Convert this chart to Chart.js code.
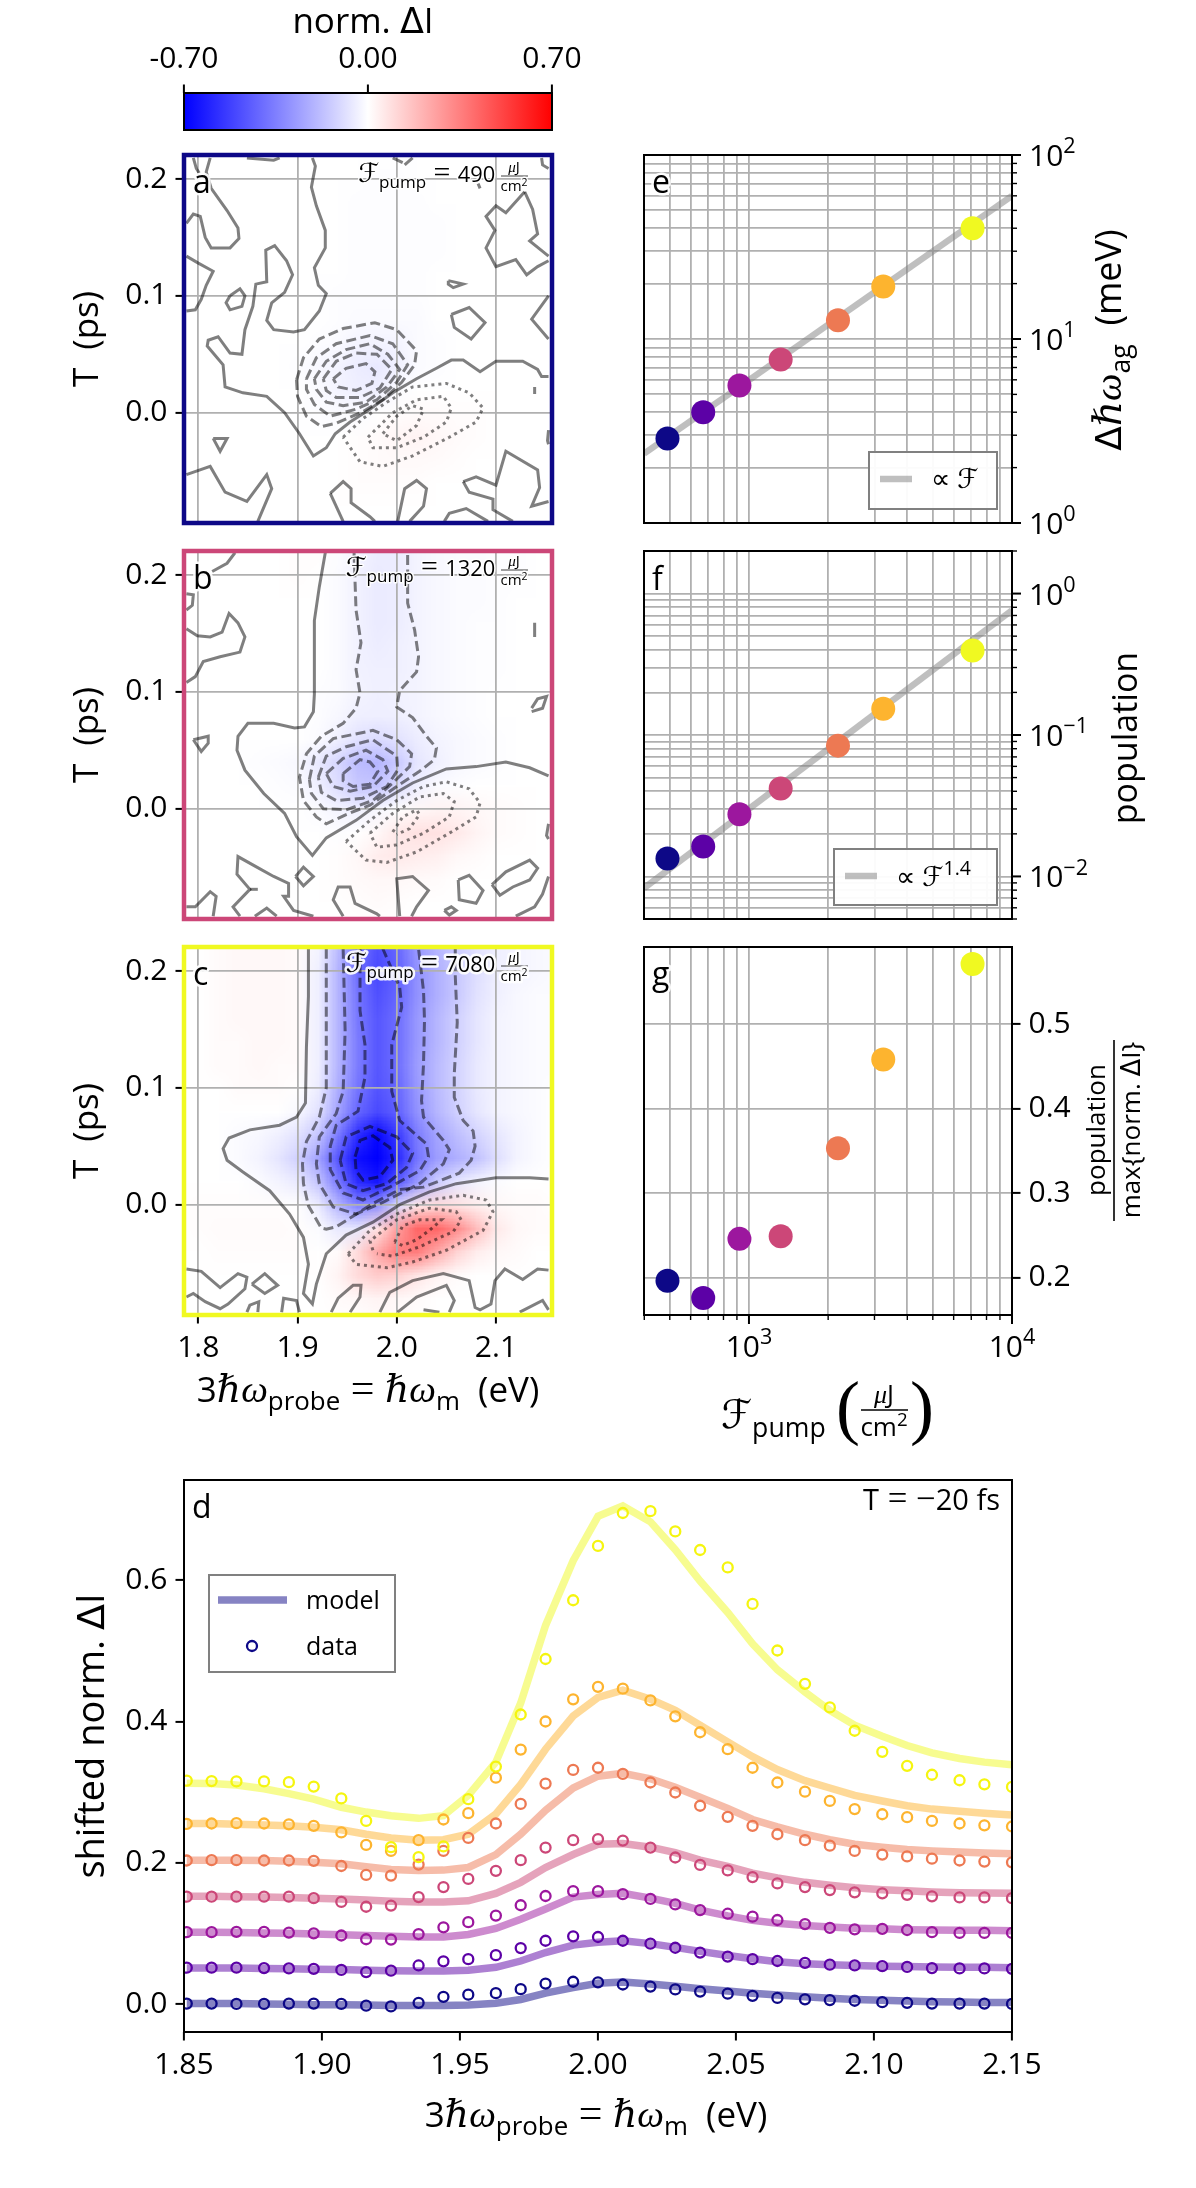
<!DOCTYPE html>
<html>
<head>
<meta charset="utf-8">
<title>norm. delta I panels</title>
<script src="https://cdn.jsdelivr.net/npm/chart.js@4"></script>
<style>
  html, body { margin: 0; background: #fff; }
  canvas { position: absolute; left: 0; top: 0; }
</style>
</head>
<body>
<script>
// fluence series, same order everywhere
const fluence = [490, 670, 920, 1320, 2180, 3240, 7080];
const seriesColors = ['#0d0887', '#5c01a6', '#9c179e', '#cc4778', '#ed7953', '#fdb42f', '#f0f921'];

const shiftAg = [2.88, 4.0, 5.59, 7.74, 12.65, 19.3, 40];
const population = [0.0134, 0.0163, 0.0275, 0.0418, 0.0841, 0.1534, 0.396];
const popRatio = [0.1965, 0.176, 0.246, 0.249, 0.353, 0.458, 0.571];

const fitF = [399, 10000];
const fitE = [2.38, 60];
const fitP = [0.00827, 0.762];

const fluenceTicks = [400, 500, 600, 700, 800, 900, 1000, 2000, 3000, 4000, 5000, 6000, 7000, 8000, 9000, 10000];
const shiftTicks = [1, 2, 3, 4, 5, 6, 7, 8, 9, 10, 20, 30, 40, 50, 60, 70, 80, 90, 100];
const popTicks = [0.005, 0.006, 0.007, 0.008, 0.009, 0.01, 0.02, 0.03, 0.04, 0.05, 0.06, 0.07, 0.08, 0.09,
  0.1, 0.2, 0.3, 0.4, 0.5, 0.6, 0.7, 0.8, 0.9, 1, 2];
const ratioTicks = [0.2, 0.3, 0.4, 0.5];
const probeTicks = [1.8, 1.9, 2.0, 2.1];
const delayTicks = [0.0, 0.1, 0.2];
const energyTicksD = [1.85, 1.90, 1.95, 2.00, 2.05, 2.10, 2.15];
const valueTicksD = [0.0, 0.2, 0.4, 0.6];
const colorbarTicks = [-0.7, 0, 0.7];

// panel d
const energy = [1.851, 1.860, 1.869, 1.879, 1.888, 1.897, 1.907, 1.916, 1.925, 1.935, 1.944, 1.953, 1.963, 1.972, 1.981, 1.991,
  2.000, 2.009, 2.019, 2.028, 2.037, 2.047, 2.056, 2.065, 2.075, 2.084, 2.093, 2.103, 2.112, 2.121, 2.131, 2.140, 2.150];

const data490 = [.001,.001,.0005,.0005,.001,.001,.0005,-.002,-.003,.002,.0105,.0136,.0157,.0214,.0293,.0319,.031,.028,.025,.021,.018,.015,.012,.009,.007,.006,.005,.003,.002,.001,.001,.001,.0005];
const data670 = [.0518,.0518,.0518,.0512,.0507,.0502,.0486,.0455,.0476,.0549,.0607,.0638,.0695,.0795,.0899,.0962,.0952,.0899,.0858,.08,.0732,.0675,.0638,.0612,.0586,.056,.055,.0539,.0528,.0512,.0507,.0507,.0502];
const data920 = [.102,.102,.1025,.1025,.1014,.1004,.0973,.092,.0915,.0993,.1088,.1161,.1255,.1401,.1532,.16,.16,.1558,.149,.1412,.1333,.1281,.1239,.1192,.1135,.1082,.1061,.1067,.1051,.102,.1009,.1009,.1009];
const data1320 = [.1522,.1522,.1522,.1522,.1522,.1501,.1448,.138,.1396,.1516,.1658,.1773,.1888,.2039,.2217,.2322,.2337,.2316,.2217,.2076,.1971,.1893,.1799,.171,.1658,.1616,.1584,.1569,.1548,.1527,.1511,.1511,.1501];
const data2180 = [.2034,.2039,.2039,.2034,.2034,.2029,.1956,.183,.182,.1976,.217,.2353,.2557,.2834,.3122,.3315,.3346,.3258,.3137,.2996,.2808,.2651,.2525,.2405,.2322,.2243,.217,.2118,.2092,.206,.2034,.2018,.2008];
const data3240 = [.2552,.2557,.2562,.2557,.2546,.2525,.2431,.2254,.217,.2322,.2614,.2703,.3205,.3603,.4,.4314,.4491,.4465,.4298,.4073,.3848,.3608,.3346,.3137,.3007,.2876,.2761,.2688,.2646,.2593,.2557,.2531,.2515];
const data7080 = [.3163,.3158,.3153,.3153,.3142,.308,.2912,.2593,.2222,.2081,.2233,.2902,.3362,.4099,.4884,.5715,.6484,.6949,.6975,.6688,.6426,.618,.5663,.5004,.4533,.4199,.3869,.3571,.3373,.3247,.3169,.3111,.3075];

const model490 = [.001,.001,.001,.0005,0,-.0005,-.0005,-.001,-.0016,-.0016,-.0016,-.001,.0016,.0068,.0157,.0235,.0298,.0314,.0288,.0256,.022,.0188,.0157,.0131,.0105,.0084,.0068,.0058,.0047,.0037,.0031,.0026,.0026];
const model670 = [.0512,.0512,.0512,.0507,.0502,.0497,.0492,.0481,.0476,.0471,.0471,.0481,.0523,.0612,.0732,.0837,.0878,.0899,.0858,.0805,.0748,.069,.0643,.0601,.0575,.0559,.0549,.0539,.0533,.0528,.0523,.0523,.0518];
const model920 = [.102,.102,.1014,.1009,.1004,.0993,.0983,.0973,.0962,.0952,.0952,.0988,.1072,.1203,.1349,.1516,.1553,.1569,.1501,.1427,.1333,.125,.1187,.1145,.1114,.1093,.1077,.1067,.1056,.1051,.1046,.1046,.1041];
const model1320 = [.1527,.1527,.1522,.1516,.1511,.1501,.149,.1475,.1459,.1448,.1448,.1464,.1569,.1725,.1935,.2118,.2264,.2275,.2222,.2144,.2039,.195,.1856,.1788,.1725,.1684,.1647,.1621,.1605,.159,.1579,.1574,.1569];
const model2180 = [.2039,.2039,.2039,.2034,.2024,.2008,.1987,.1945,.1908,.1893,.1898,.1935,.2118,.2405,.2745,.3059,.3226,.3268,.319,.3069,.2928,.2771,.2614,.251,.2405,.2327,.2264,.2222,.2191,.217,.2154,.2139,.2128];
const model3240 = [.2557,.2557,.2546,.2536,.2525,.2505,.2468,.2405,.2353,.2322,.2327,.2405,.2693,.3111,.3608,.4078,.434,.4444,.4314,.4157,.3948,.3712,.3503,.332,.3163,.3059,.2954,.2876,.2808,.2761,.2729,.2703,.2677];
const model7080 = [.3127,.3122,.3101,.3048,.298,.2902,.2787,.2719,.2667,.263,.2667,.2954,.3425,.4261,.5359,.6275,.6902,.7048,.6824,.6431,.5987,.5542,.5098,.4732,.4418,.4157,.3948,.3791,.366,.3556,.3477,.3425,.3388];

// heatmap cells, values in percent of norm. dI
const mapEnergy = [1.78,1.80,1.82,1.84,1.86,1.88,1.90,1.92,1.94,1.96,1.98,2.00,2.02,2.04,2.06,2.08,2.10,2.12,2.14,2.16];
const mapDelay = [.22,.20,.18,.16,.14,.12,.10,.08,.06,.04,.02,0,-.02,-.04,-.06,-.08,-.10];

const mapA = [
  [0,0,0,0,0,0,0,0,0,0,0,0,0,0,0,0,0,0,0,0],
  [0,0,0,0,0,0,0,0,0,0,-.5,-.5,0,0,0,0,0,0,0,0],
  [0,0,0,0,0,0,0,0,0,-.5,-.5,-.5,-.5,0,0,0,0,0,0,0],
  [0,0,0,0,0,0,0,0,0,-.5,-.5,-.5,-.5,-.5,0,0,0,0,0,0],
  [0,0,0,0,0,0,0,0,0,-.5,-.5,-.5,-.5,-.5,0,0,0,0,0,0],
  [0,0,0,0,0,0,0,0,0,-.5,-.5,-.5,-.5,0,0,0,0,0,0,0],
  [0,0,0,0,0,0,0,0,-.5,-.5,-.5,-.5,-.5,0,0,0,0,0,0,0],
  [0,0,0,0,0,0,0,0,-.5,-1,-1,-1,-1,0,0,0,0,0,0,0],
  [0,0,0,0,0,0,0,-.5,-1,-3,-3,-3,-1,-.5,0,0,0,0,0,0],
  [0,0,0,0,0,0,-.5,-2,-3,-5,-6,-4,-1,-.5,0,0,0,0,0,0],
  [0,0,0,0,0,0,0,-1,-3,-4,-4,-1,0,0,0,0,0,0,0,0],
  [0,0,0,0,0,0,0,-.5,-1,-1,0,.5,1,1,.5,.5,0,0,0,0],
  [0,0,0,0,0,0,0,0,0,.5,1,2.5,3,2,1,.5,0,0,0,0],
  [0,0,0,0,0,0,0,0,0,.5,1,1.5,1.5,1,.5,0,0,0,0,0],
  [0,0,0,0,0,0,0,0,0,.5,.5,.5,.5,0,0,0,0,0,0,0],
  [0,0,0,0,0,0,0,0,0,0,0,0,0,0,0,0,0,0,0,0],
  [0,0,0,0,0,0,0,0,0,0,0,0,0,0,0,0,0,0,0,0]
];
const mapB = [
  [0,0,0,0,0,0,.5,.5,-.5,-3,-5,-5,-3,-2,-1,-1,-.5,-.5,0,0],
  [0,0,0,0,0,0,.5,0,-1,-3.5,-5.5,-5,-3,-2,-1,-1,-.5,-.5,0,0],
  [0,0,0,0,0,0,0,0,-1,-3.5,-5.5,-5,-3,-2,-1,-1,-.5,0,0,0],
  [0,0,0,0,0,0,0,0,-1,-3.5,-5.5,-5,-3,-2,-1,-.5,-.5,0,0,0],
  [0,0,0,0,0,0,0,0,-1,-3.5,-5,-4,-3,-2,-1,-.5,-.5,0,0,0],
  [0,0,0,0,0,0,0,0,-1,-3.5,-4,-4,-3,-2,-1,-.5,-.5,0,0,0],
  [0,0,0,0,0,0,0,-.5,-1,-3,-4,-3.5,-3,-2,-1,-.5,0,0,0,0],
  [0,0,0,0,0,0,0,-.5,-2,-4,-4.5,-4,-3,-2,-1,-.5,0,0,0,0],
  [0,0,0,0,0,0,0,-1,-4,-8,-10,-8,-5,-3,-2,-1,-.5,0,0,0],
  [0,0,0,0,-.5,-1,-2,-6,-11,-18,-20,-15,-7,-4,-2,-1,-.5,0,0,0],
  [0,0,0,0,0,-.5,-1,-4,-9,-15,-16,-10,-4,-1,-.5,0,0,0,0,0],
  [0,0,0,0,0,0,0,-1,-3,-4,-2,0,2,3,3,2,1,.5,0,0],
  [0,0,0,0,0,0,0,0,-.5,0,2,6,8,8,6,3,1,.5,0,0],
  [0,0,0,0,0,0,0,0,.5,2,5,6,5,4,2,1,0,0,0,0],
  [0,0,0,0,0,0,0,0,.5,1.5,2,2,1.5,1,0,0,0,0,0,0],
  [0,0,0,0,0,0,0,0,0,.5,1,.5,0,0,0,0,0,0,0,0],
  [0,0,0,0,0,0,0,0,0,0,0,0,0,0,0,0,0,0,0,0]
];
const mapC = [
  [0,0,1,2,2,2,1,-3,-18,-38,-48,-42,-28,-20,-14,-8,-4,-3,-2,-1],
  [0,0,1,2,2,2,1,-4,-20,-40,-50,-44,-30,-22,-15,-9,-4,-3,-2,-1],
  [0,0,1,2,2,2,1,-4,-20,-38,-48,-42,-30,-22,-15,-8,-4,-2,-1,-1],
  [0,0,1,2,2,2,1,-4,-20,-37,-46,-40,-28,-20,-13,-7,-3,-2,-1,-1],
  [0,0,1,1,2,2,1,-4,-20,-36,-46,-40,-28,-20,-13,-7,-3,-2,-1,-1],
  [0,0,1,1,2,1,1,-4,-20,-36,-46,-40,-27,-19,-12,-6,-3,-2,-1,-1],
  [0,0,0,1,1,1,0,-5,-22,-38,-47,-42,-28,-19,-12,-6,-3,-2,-1,0],
  [0,0,0,0,0,0,-2,-8,-25,-42,-50,-44,-30,-20,-13,-7,-3,-2,-1,0],
  [0,0,0,-1,-2,-4,-8,-16,-36,-58,-68,-55,-36,-25,-18,-12,-7,-3,-1,0],
  [0,0,0,-1,-3,-7,-13,-25,-46,-66,-72,-60,-38,-27,-22,-17,-9,-3,-1,0],
  [0,0,0,0,-1,-3,-6,-16,-36,-58,-64,-46,-28,-14,-7,-3,-1,0,0,0],
  [0,.5,.5,.5,.5,.5,0,-5,-20,-34,-30,-10,6,10,8,5,2,1,1,0],
  [0,.5,1,1,1,1,.5,-1,-6,-6,8,26,42,42,32,18,6,2,1,1],
  [0,0,.5,.5,.5,.5,.5,0,1,10,24,36,36,24,12,5,2,1,0,0],
  [0,0,0,0,0,0,0,0,3,10,14,12,7,3,1,0,0,0,0,0],
  [0,0,0,0,0,0,0,0,1,2,3,2,1,0,0,0,0,0,0,0],
  [0,0,0,0,0,0,0,0,0,0,1,1,0,0,0,0,0,0,0,0]
];

// contour lines, flat energy,delay pairs
const solidA = [
  [1.795,.218,1.798,.209,1.801,.205],
  [1.812,.218,1.808,.206,1.813,.192,1.829,.173,1.84,.158,1.841,.149,1.832,.141,1.813,.141,1.807,.15,1.802,.168,1.795,.17,1.788,.162],
  [1.788,.134,1.8,.128,1.815,.121,1.808,.109,1.803,.097,1.797,.088,1.788,.087],
  [1.832,.1,1.842,.106,1.847,.1,1.844,.091,1.832,.088,1.828,.094,1.832,.1],
  [1.915,.218,1.918,.211,1.914,.193,1.919,.177,1.928,.156,1.928,.141,1.917,.124,1.921,.109,1.929,.102,1.922,.087,1.907,.071,1.896,.069,1.876,.071,1.869,.079,1.874,.094,1.887,.103,1.895,.118,1.889,.13,1.877,.143,1.868,.139,1.869,.112,1.858,.11,1.855,.091,1.847,.071,1.844,.05,1.832,.051,1.82,.065,1.81,.062,1.809,.057,1.825,.041,1.827,.022,1.845,.017,1.869,.014,1.887,0,1.902,-.018,1.916,-.037,1.929,-.03,1.938,-.018,1.953,-.008,1.973,.003,1.996,.017,2.02,.029,2.04,.038,2.055,.045,2.067,.045,2.084,.035,2.1,.044,2.127,.044,2.142,.037,2.146,.031,2.153,.031],
  [2.052,.113,2.067,.11,2.057,.107,2.052,.11,2.052,.113],
  [2.055,.084,2.073,.09,2.089,.077,2.075,.063,2.058,.073,2.055,.084],
  [2.129,.189,2.11,.171,2.1,.177,2.09,.168,2.099,.156,2.09,.141,2.1,.125,2.12,.131,2.131,.118,2.142,.125,2.153,.13],
  [2.129,.189,2.137,.174,2.142,.153,2.134,.147,2.153,.134],
  [2.153,.1,2.136,.08,2.153,.063],
  [2.139,.022,2.139,.016],
  [2.153,-.015,2.152,-.024,2.153,-.027],
  [1.815,-.022,1.829,-.022,1.822,-.033,1.815,-.022],
  [1.788,-.053,1.812,-.046,1.827,-.068,1.849,-.076,1.869,-.053,1.874,-.065,1.86,-.093],
  [1.933,-.069,1.946,-.059,1.954,-.065,1.954,-.077,1.973,-.089,1.978,-.093],
  [1.933,-.069,1.946,-.093],
  [2.001,-.093,2.008,-.065,2.02,-.058,2.03,-.065,2.027,-.08,2.013,-.093],
  [2.048,-.093,2.053,-.086,2.07,-.082,2.092,-.093],
  [2.067,-.059,2.08,-.055,2.1,-.062,2.11,-.033,2.142,-.049,2.144,-.064,2.136,-.08,2.153,-.076],
  [2.067,-.059,2.073,-.068,2.097,-.074,2.097,-.083,2.117,-.093],
  [1.849,.218,1.876,.216,1.882,.218],
  [1.996,.218,2.006,.214],
  [2.016,.218,2.008,.212],
  [2.082,.196,2.084,.192],
  [2.146,.218,2.147,.212,2.153,.209]
];
const dashA = [
  [1.899,.028,1.906,.047,1.922,.063,1.946,.072,1.978,.077,2.0,.071,2.02,.053,2.018,.041,2.005,.026,1.986,.011,1.966,.001,1.939,-.009,1.924,-.012,1.909,-.003,1.9,.014,1.899,.028],
  [1.909,.029,1.919,.047,1.939,.059,1.973,.066,1.996,.059,2.011,.041,2.0,.026,1.98,.011,1.959,.003,1.933,-.003,1.917,.007,1.909,.02,1.909,.029],
  [1.917,.029,1.929,.044,1.949,.054,1.973,.059,1.991,.05,2.003,.037,1.99,.022,1.969,.009,1.946,.006,1.929,.009,1.919,.02,1.917,.029],
  [1.926,.029,1.939,.044,1.959,.051,1.98,.05,1.995,.037,1.983,.021,1.963,.013,1.939,.013,1.929,.019,1.926,.029],
  [1.936,.029,1.949,.038,1.969,.042,1.978,.035,1.975,.025,1.959,.019,1.941,.022,1.936,.029]
];
const dotA = [
  [1.946,-.021,1.966,-.005,1.99,.009,2.016,.022,2.05,.025,2.073,.017,2.087,.004,2.08,-.008,2.053,-.021,2.016,-.037,1.986,-.046,1.963,-.042,1.946,-.021],
  [1.971,-.021,1.996,0,2.02,.011,2.047,.014,2.055,.004,2.05,-.008,2.027,-.021,2.0,-.03,1.976,-.03,1.971,-.021],
  [1.986,-.018,2.0,-.003,2.016,.006,2.027,.003,2.02,-.011,2.0,-.024,1.986,-.018]
];

const solidB = [
  [1.814,.203,1.829,.21,1.837,.219],
  [1.788,.184,1.795,.183,1.794,.174,1.788,.17],
  [1.788,.154,1.799,.148,1.812,.147,1.824,.151,1.831,.167,1.84,.159,1.847,.147,1.842,.134,1.822,.13,1.805,.126,1.797,.113,1.788,.108],
  [1.928,.219,1.922,.19,1.917,.161,1.917,.133,1.917,.098,1.916,.083,1.907,.07,1.897,.069,1.876,.073,1.85,.073,1.84,.062,1.839,.05,1.847,.033,1.866,.013,1.887,-.004,1.899,-.024,1.915,-.04,1.929,-.025,1.959,-.01,1.986,.007,2.016,.022,2.05,.034,2.08,.036,2.11,.04,2.134,.035,2.153,.028],
  [1.795,.059,1.81,.062,1.81,.056,1.803,.049,1.795,.059],
  [2.139,.159,2.139,.147],
  [2.136,.086,2.142,.094,2.151,.096,2.147,.086,2.136,.083],
  [2.153,-.013,2.151,-.023,2.153,-.026],
  [1.898,-.058,1.906,-.05,1.916,-.058,1.906,-.066,1.898,-.058],
  [1.788,-.084,1.797,-.084,1.812,-.071,1.818,-.075,1.815,-.092],
  [1.842,-.092,1.835,-.084,1.852,-.069,1.839,-.056,1.84,-.041,1.859,-.05,1.876,-.058,1.891,-.064,1.891,-.075,1.886,-.075,1.896,-.087,1.916,-.092],
  [1.852,-.069,1.86,-.069],
  [1.857,-.092,1.869,-.085,1.879,-.092],
  [1.946,-.092,1.936,-.078,1.941,-.067,1.953,-.067,1.958,-.081,1.98,-.09,1.983,-.092],
  [2.003,-.092,2.0,-.06,2.016,-.058,2.032,-.07,2.02,-.084,2.015,-.092],
  [2.062,-.061,2.073,-.057,2.087,-.07,2.08,-.081,2.063,-.078,2.062,-.061],
  [2.048,-.087,2.055,-.084,2.06,-.087,2.053,-.091,2.048,-.087],
  [2.096,-.065,2.11,-.054,2.134,-.044,2.142,-.051,2.134,-.061,2.117,-.067,2.104,-.074,2.096,-.065],
  [2.12,-.092,2.139,-.084,2.147,-.073,2.153,-.058]
];
const dashB = [
  [1.957,.219,1.958,.194,1.959,.17,1.964,.142,1.959,.119,1.963,.099,1.959,.086,1.946,.073,1.924,.062,1.909,.047,1.902,.027,1.906,.007,1.919,-.007,1.929,-.013,1.949,-.005,1.973,.003,2.0,.019,2.023,.032,2.038,.042,2.04,.052,2.03,.062,2.016,.078,2.0,.087,2.003,.101,2.02,.117,2.022,.13,2.018,.153,2.011,.176,2.011,.219],
  [1.912,.025,1.917,.045,1.936,.06,1.976,.067,2.0,.059,2.015,.047,2.013,.036,1.996,.022,1.976,.007,1.949,-.001,1.926,0,1.914,.013,1.912,.025],
  [1.921,.027,1.929,.045,1.949,.053,1.976,.059,2.0,.045,2.001,.033,1.99,.019,1.966,.009,1.939,.007,1.924,.014,1.921,.027],
  [1.929,.03,1.946,.043,1.969,.05,1.986,.042,1.991,.032,1.976,.019,1.953,.015,1.936,.019,1.929,.03],
  [1.946,.03,1.963,.042,1.973,.04,1.981,.032,1.973,.021,1.956,.019,1.946,.024,1.946,.03]
];
const dotB = [
  [1.949,-.028,1.973,-.01,2.0,.007,2.027,.019,2.05,.023,2.073,.017,2.084,.005,2.08,-.007,2.053,-.021,2.02,-.037,1.99,-.046,1.969,-.044,1.949,-.028],
  [1.973,-.021,1.996,-.004,2.023,.01,2.047,.013,2.058,.006,2.053,-.007,2.027,-.021,2.0,-.031,1.98,-.033,1.973,-.021],
  [1.996,-.02,2.006,-.007,2.02,-.001,2.023,-.005,2.013,-.017,2.0,-.022]
];

const solidC = [
  [1.911,.219,1.911,.178,1.909,.135,1.908,.087,1.899,.075,1.882,.068,1.852,.064,1.831,.057,1.825,.048,1.829,.038,1.845,.028,1.872,.012,1.892,-.008,1.906,-.028,1.911,-.051,1.906,-.076,1.915,-.085,1.919,-.068,1.929,-.042,1.949,-.026,1.976,-.015,2.003,0,2.033,.011,2.06,.018,2.1,.023,2.134,.023,2.153,.022],
  [1.788,-.055,1.803,-.057,1.822,-.071,1.84,-.059,1.849,-.062,1.847,-.072,1.83,-.085,1.822,-.089,1.807,-.083,1.795,-.076,1.788,-.079],
  [1.854,-.068,1.867,-.059,1.88,-.069,1.867,-.076,1.854,-.068],
  [1.849,-.092,1.852,-.086,1.861,-.083,1.86,-.092],
  [1.884,-.092,1.886,-.08,1.899,-.082,1.902,-.092],
  [1.934,-.092,1.941,-.08,1.956,-.069,1.964,-.069,1.963,-.079,1.953,-.092],
  [1.983,-.092,1.993,-.075,2.016,-.065,2.047,-.059,2.073,-.065,2.079,-.088,2.084,-.09,2.095,-.085,2.099,-.065,2.109,-.055,2.127,-.064,2.142,-.055,2.153,-.056],
  [2.001,-.092,2.02,-.079,2.05,-.069,2.058,-.082,2.053,-.092],
  [2.027,-.09,2.043,-.092],
  [2.124,-.092,2.147,-.082,2.153,-.09]
];
const dashC = [
  [1.929,.219,1.929,.178,1.929,.101,1.929,.1,1.922,.075,1.909,.054,1.905,.035,1.906,.018,1.911,-.001,1.924,-.02,1.929,-.021,1.939,-.019,1.976,.001,2.003,.013,2.027,.015,2.063,.027,2.075,.038,2.079,.05,2.077,.063,2.067,.072,2.058,.092,2.058,.112,2.061,.156,2.059,.196,2.059,.219],
  [1.946,.219,1.948,.149,1.946,.097,1.939,.078,1.922,.058,1.919,.035,1.922,.018,1.936,-.002,1.959,-.008,1.986,.002,2.023,.018,2.047,.035,2.053,.047,2.047,.055,2.027,.075,2.025,.089,2.027,.12,2.028,.158,2.027,.183,2.022,.219],
  [1.963,.219,1.963,.19,1.963,.166,1.968,.137,1.968,.109,1.961,.08,1.939,.068,1.933,.05,1.933,.03,1.946,.01,1.966,.004,1.993,.015,2.023,.029,2.032,.041,2.03,.052,2.003,.072,1.995,.097,1.995,.137,2.005,.169,2.003,.186,1.986,.219],
  [1.943,.038,1.949,.058,1.973,.067,2.0,.058,2.016,.044,2.01,.032,1.99,.018,1.966,.012,1.949,.018,1.943,.038],
  [1.958,.041,1.963,.055,1.976,.059,1.993,.049,1.996,.038,1.983,.024,1.966,.021,1.959,.029,1.958,.041]
];
const dotC = [
  [1.951,-.042,1.973,-.022,2.0,-.008,2.033,.004,2.067,.008,2.09,.004,2.097,-.006,2.087,-.022,2.05,-.039,2.016,-.049,1.99,-.054,1.959,-.051,1.951,-.042],
  [1.976,-.039,1.973,-.031,2.0,-.013,2.033,-.003,2.06,-.006,2.065,-.013,2.057,-.023,2.023,-.036,1.996,-.044,1.98,-.042],
  [1.998,-.032,2.006,-.018,2.023,-.013,2.045,-.013,2.033,-.022,2.02,-.03,2.006,-.035,1.998,-.032]
];

const colorbarStops = ['#0000ff', '#ffffff', '#ff0000'];

const SANS = '"Open Sans", Lato, sans-serif';
const BLACK = '#000';
const GRID = '#b0b0b0';
const CONTOUR = 'rgba(0,0,0,0.5)';
const PAGE_W = 1196, PAGE_H = 2188;
const AXIS_BOX = 70; // room kept for tick labels, chart.js clips them to the scale box

function pairs(flat) {
  const out = [];
  for (let i = 0; i < flat.length; i += 2) out.push({ x: flat[i], y: flat[i + 1] });
  return out;
}
function zipXY(xs, ys) {
  return xs.map((x, i) => ({ x: x, y: ys[i] }));
}

function runFont(kind, size) {
  if (kind === 'i') return 'italic ' + size + 'px "Liberation Serif", "DejaVu Serif", serif';
  if (kind === 'e') return size + 'px "Liberation Serif", serif';
  if (kind === 'd') return size + 'px "DejaVu Sans", sans-serif';
  return size + 'px ' + SANS;
}

// runs: [text, kind, size factor, baseline shift factor]
function mathText(ctx, x, y, size, runs, opt) {
  opt = opt || {};
  ctx.save();
  ctx.translate(x, y);
  if (opt.rot) ctx.rotate(opt.rot);
  let w = 0;
  const laid = runs.map(r => {
    const s = size * (r[2] || 1);
    ctx.font = runFont(r[1] || 's', s);
    const m = ctx.measureText(r[0]).width;
    const item = { t: r[0], font: ctx.font, x: w, dy: size * (r[3] || 0) };
    w += m;
    return item;
  });
  const off = opt.align === 'center' ? -w / 2 : opt.align === 'right' ? -w : 0;
  ctx.textAlign = 'left';
  ctx.textBaseline = 'alphabetic';
  if (opt.halo) {
    ctx.strokeStyle = 'rgba(255,255,255,0.9)';
    ctx.lineWidth = opt.halo;
    ctx.lineJoin = 'round';
    laid.forEach(l => { ctx.font = l.font; ctx.strokeText(l.t, off + l.x, l.dy); });
  }
  ctx.fillStyle = opt.color || BLACK;
  laid.forEach(l => { ctx.font = l.font; ctx.fillText(l.t, off + l.x, l.dy); });
  ctx.restore();
}

function bwr(pct) {
  const t = Math.max(-1, Math.min(1, pct / 100 / 0.7));
  if (t < 0) {
    const c = Math.round(255 * (1 + t));
    return [c, c, 255];
  }
  const c = Math.round(255 * (1 - t));
  return [255, c, c];
}

function heatmapPlugin(matrix) {
  return {
    id: 'heatmap',
    beforeDraw(chart) {
      const rows = matrix.length, cols = matrix[0].length;
      const off = document.createElement('canvas');
      off.width = cols; off.height = rows;
      const oc = off.getContext('2d');
      const img = oc.createImageData(cols, rows);
      matrix.forEach((row, j) => row.forEach((v, i) => {
        const c = bwr(v), k = (j * cols + i) * 4;
        img.data[k] = c[0]; img.data[k + 1] = c[1]; img.data[k + 2] = c[2]; img.data[k + 3] = 255;
      }));
      oc.putImageData(img, 0, 0);
      const a = chart.chartArea, sx = chart.scales.x, sy = chart.scales.y;
      const x0 = sx.getPixelForValue(mapEnergy[0] - 0.01), x1 = sx.getPixelForValue(mapEnergy[cols - 1] + 0.01);
      const y0 = sy.getPixelForValue(mapDelay[0] + 0.01), y1 = sy.getPixelForValue(mapDelay[rows - 1] - 0.01);
      const ctx = chart.ctx;
      ctx.save();
      ctx.beginPath();
      ctx.rect(a.left, a.top, a.right - a.left, a.bottom - a.top);
      ctx.clip();
      ctx.imageSmoothingEnabled = true;
      ctx.drawImage(off, x0, y0, x1 - x0, y1 - y0);
      ctx.restore();
    }
  };
}

function frame(chart, color, width) {
  const a = chart.chartArea, ctx = chart.ctx;
  ctx.save();
  ctx.strokeStyle = color;
  ctx.lineWidth = width;
  ctx.strokeRect(a.left, a.top, a.right - a.left, a.bottom - a.top);
  ctx.restore();
}

function legendBox(ctx, x0, y0, x1, y1) {
  ctx.save();
  ctx.fillStyle = 'rgba(255,255,255,0.95)';
  ctx.strokeStyle = '#808080';
  ctx.lineWidth = 2;
  ctx.fillRect(x0, y0, x1 - x0, y1 - y0);
  ctx.strokeRect(x0, y0, x1 - x0, y1 - y0);
  ctx.restore();
}
function legendLine(ctx, x0, x1, y, color, width) {
  ctx.save();
  ctx.strokeStyle = color;
  ctx.lineWidth = width;
  ctx.beginPath(); ctx.moveTo(x0, y); ctx.lineTo(x1, y); ctx.stroke();
  ctx.restore();
}

// log axes: ticks and 10^n labels by hand, chart.js has no superscripts
function sideTicks(chart, axisId, values, labels, size) {
  const ctx = chart.ctx, scale = chart.scales[axisId], a = chart.chartArea;
  ctx.save();
  ctx.strokeStyle = BLACK;
  values.forEach(v => {
    const e = Math.log10(v), major = Math.abs(e - Math.round(e)) < 1e-6;
    const p = scale.getPixelForValue(v);
    ctx.lineWidth = major ? 2 : 1.4;
    ctx.beginPath();
    if (axisId === 'y') { ctx.moveTo(a.right, p); ctx.lineTo(a.right + (major ? 9 : 5), p); }
    else { ctx.moveTo(p, a.bottom); ctx.lineTo(p, a.bottom + (major ? 9 : 5)); }
    ctx.stroke();
    if (major && labels) {
      const exp = String(Math.round(e)).replace('-', '\u2212');
      const runs = [['10', 's'], [exp, 's', 0.72, -0.42]];
      if (axisId === 'y') mathText(ctx, a.right + 17, p + 11, size, runs);
      else mathText(ctx, p, a.bottom + 42, size, runs, { align: 'center' });
    }
  });
  ctx.restore();
}

// padding puts the plot area where it belongs on the page, the axis boxes take AXIS_BOX out of it
function baseOptions(area, scales) {
  const pad = { left: area.l, top: area.t, right: PAGE_W - area.r, bottom: PAGE_H - area.b };
  Object.values(scales).forEach(s => { if (s.display !== false) pad[s.position] -= AXIS_BOX; });
  return {
    responsive: false,
    animation: false,
    devicePixelRatio: 1,
    layout: { padding: pad },
    plugins: { legend: { display: false }, tooltip: { enabled: false } },
    scales: scales
  };
}

function linearAxis(horizontal, min, max, ticksList, showLabels, fmt, position, gridColor) {
  return {
    type: 'linear', min: min, max: max, position: position,
    border: { display: false },
    grid: { color: gridColor || GRID, lineWidth: 1.8, drawTicks: showLabels, tickLength: 8.5, tickColor: BLACK, tickWidth: 2 },
    ticks: {
      display: showLabels, autoSkip: false, maxRotation: 0, minRotation: 0,
      padding: horizontal ? 7 : 8, color: BLACK,
      font: { family: SANS, size: 30 },
      callback: v => fmt(v)
    },
    afterBuildTicks: axis => { axis.ticks = ticksList.map(v => ({ value: v })); },
    afterFit: axis => { if (horizontal) axis.height = AXIS_BOX; else axis.width = AXIS_BOX; }
  };
}
function logAxis(horizontal, min, max, ticksList, position) {
  return {
    type: 'logarithmic', min: min, max: max, position: position,
    border: { display: false },
    grid: { color: GRID, lineWidth: 1.8, drawTicks: false },
    ticks: { display: false, autoSkip: false },
    afterBuildTicks: axis => { axis.ticks = ticksList.map(v => ({ value: v })); },
    afterFit: axis => { if (horizontal) axis.height = AXIS_BOX; else axis.width = AXIS_BOX; }
  };
}

function addCanvas() {
  const c = document.createElement('canvas');
  c.width = PAGE_W; c.height = PAGE_H;
  c.style.width = PAGE_W + 'px'; c.style.height = PAGE_H + 'px';
  document.body.appendChild(c);
  return c;
}

function contourSets(solid, dash, dot) {
  const mk = (flat, d) => ({
    data: pairs(flat), showLine: true, pointRadius: 0, fill: false, tension: 0,
    borderColor: CONTOUR, borderWidth: 3, borderDash: d
  });
  return solid.map(f => mk(f, []))
    .concat(dash.map(f => mk(f, [10, 4.5])))
    .concat(dot.map(f => mk(f, [3, 4])));
}

const tick1 = v => v.toFixed(1);
const X_MIN = 1.7856, X_MAX = 2.1565, Y_MIN = -0.0944, Y_MAX = 0.2205;

function mapPanel(o) {
  const showX = !!o.xlabels;
  new Chart(addCanvas(), {
    type: 'scatter',
    data: { datasets: contourSets(o.solid, o.dash, o.dot) },
    options: baseOptions(o.area, {
      x: linearAxis(true, X_MIN, X_MAX, probeTicks, showX, tick1, 'bottom'),
      y: linearAxis(false, Y_MIN, Y_MAX, delayTicks, true, tick1, 'left')
    }),
    plugins: [heatmapPlugin(o.matrix), {
      id: 'panelText',
      afterDraw(chart) {
        const ctx = chart.ctx, a = chart.chartArea;
        const cy = (a.top + a.bottom) / 2;
        const haloN = o.halo;
        const fx = a.left + 317;
        const fy = a.top + o.noteDy;
        mathText(ctx, fx, fy, 23,
          [['\u2131', 'd', 1.15], ['pump', 's', 0.74, 0.24], [' = ', 'e', 1.3], [String(o.fluence) + ' ', 's', 0.95]],
          { align: 'right', halo: haloN });
        mathText(ctx, fx + 13, fy - 10, 15, [['\u03bc', 'i'], ['J', 's']], { align: 'center', halo: haloN });
        ctx.save();
        ctx.strokeStyle = 'rgba(0,0,0,0.75)';
        ctx.lineWidth = 1;
        ctx.beginPath(); ctx.moveTo(fx, fy - 6); ctx.lineTo(fx + 27, fy - 6); ctx.stroke();
        ctx.restore();
        mathText(ctx, fx + 13, fy + 9, 15, [['cm', 's'], ['2', 's', 0.7, -0.35]], { align: 'center', halo: haloN });
        mathText(ctx, a.left + 9, a.top + 38, 32, [[o.name, 's']], { halo: 5 });
        mathText(ctx, 98, cy, 35, [['T  (ps)', 's']], { align: 'center', rot: -Math.PI / 2 });
        if (showX) {
          mathText(ctx, (a.left + a.right) / 2, a.bottom + 87, 35,
            [['3', 's'], ['\u210f\u03c9', 'i', 1.08], ['probe', 's', 0.74, 0.24], [' = ', 'e', 1.2], ['\u210f\u03c9', 'i', 1.08], ['m', 's', 0.74, 0.24], ['  (eV)', 's']],
            { align: 'center' });
        }
        frame(chart, o.color, 4.5);
      }
    }]
  });
}

function fluencePanel(o) {
  const linear = !!o.linearY;
  new Chart(addCanvas(), {
    type: 'scatter',
    data: {
      datasets: [{
        data: zipXY(fluence, o.values), backgroundColor: seriesColors, borderWidth: 0, pointRadius: 12, pointHoverRadius: 12
      }].concat(o.fit ? [{
        data: zipXY(fitF, o.fit), showLine: true, pointRadius: 0, borderColor: 'rgba(128,128,128,0.5)', borderWidth: 6.5
      }] : [])
    },
    options: baseOptions(o.area, {
      x: logAxis(true, 399, 10000, fluenceTicks, 'bottom'),
      y: linear ? linearAxis(false, o.ymin, o.ymax, o.yticks, true, tick1, 'right')
                : logAxis(false, o.ymin, o.ymax, o.yticks, 'right')
    }),
    plugins: [{
      id: 'panelText',
      afterDraw(chart) {
        const ctx = chart.ctx;
        frame(chart, BLACK, 2);
        if (!linear) sideTicks(chart, 'y', o.yticks, true, 30);
        if (o.xlabels) sideTicks(chart, 'x', fluenceTicks, true, 30);
        o.text(ctx, chart);
      }
    }]
  });
}

// colour bar
new Chart(addCanvas(), {
  type: 'scatter',
  data: { datasets: [] },
  options: baseOptions({ l: 184, t: 93, r: 552, b: 130 }, {
    x: linearAxis(true, -0.7, 0.7, colorbarTicks, true, v => v.toFixed(2), 'top', 'transparent'),
    y: { display: false, min: 0, max: 1 }
  }),
  plugins: [{
    id: 'colorbar',
    beforeDraw(chart) {
      const a = chart.chartArea, ctx = chart.ctx, sx = chart.scales.x;
      const g = ctx.createLinearGradient(sx.getPixelForValue(-0.7), 0, sx.getPixelForValue(0.7), 0);
      colorbarStops.forEach((c, i) => g.addColorStop(i / (colorbarStops.length - 1), c));
      ctx.save();
      ctx.fillStyle = g;
      ctx.fillRect(a.left, a.top, a.right - a.left, a.bottom - a.top);
      ctx.restore();
    },
    afterDraw(chart) {
      frame(chart, BLACK, 2);
      mathText(chart.ctx, 363, 33, 35, [['norm. ', 's'], ['\u0394', 'd'], ['I', 's']], { align: 'center' });
    }
  }]
});

mapPanel({ area: { l: 184, t: 155, r: 552, b: 523 }, name: 'a', color: seriesColors[0], matrix: mapA,
  solid: solidA, dash: dashA, dot: dotA, fluence: 490, noteDy: 27, halo: 3 });
mapPanel({ area: { l: 184, t: 551, r: 552, b: 919 }, name: 'b', color: seriesColors[3], matrix: mapB,
  solid: solidB, dash: dashB, dot: dotB, fluence: 1320, noteDy: 25, halo: 3 });
mapPanel({ area: { l: 184, t: 947, r: 552, b: 1315 }, name: 'c', color: seriesColors[6], matrix: mapC,
  solid: solidC, dash: dashC, dot: dotC, fluence: 7080, noteDy: 25, halo: 5, xlabels: true });

fluencePanel({
  area: { l: 644, t: 155, r: 1012, b: 523 }, values: shiftAg, fit: fitE, ymin: 1, ymax: 100, yticks: shiftTicks,
  text(ctx) {
    mathText(ctx, 652, 193, 32, [['e', 's']], { halo: 5 });
    legendBox(ctx, 869, 452, 997, 509);
    legendLine(ctx, 880, 912, 479, 'rgba(128,128,128,0.5)', 6.5);
    mathText(ctx, 931, 488, 27, [['\u221d', 'd'], [' ', 's'], ['\u2131', 'd']]);
    mathText(ctx, 1121, 340, 36,
      [['\u0394', 'd'], ['\u210f\u03c9', 'i', 1.08], ['ag', 's', 0.74, 0.24], ['  (meV)', 's']],
      { align: 'center', rot: -Math.PI / 2 });
  }
});
fluencePanel({
  area: { l: 644, t: 551, r: 1012, b: 919 }, values: population, fit: fitP, ymin: 0.005, ymax: 2, yticks: popTicks,
  text(ctx) {
    mathText(ctx, 652, 590, 32, [['f', 's']], { halo: 5 });
    legendBox(ctx, 834, 849, 997, 905);
    legendLine(ctx, 845, 877, 876, 'rgba(128,128,128,0.5)', 6.5);
    mathText(ctx, 896, 886, 27, [['\u221d', 'd'], [' ', 's'], ['\u2131', 'd'], ['1.4', 's', 0.72, -0.42]]);
    mathText(ctx, 1137, 738, 34, [['population', 's']], { align: 'center', rot: -Math.PI / 2 });
  }
});
fluencePanel({
  area: { l: 644, t: 947, r: 1012, b: 1315 }, values: popRatio, ymin: 0.156, ymax: 0.591, yticks: ratioTicks,
  linearY: true, xlabels: true,
  text(ctx) {
    mathText(ctx, 652, 985, 32, [['g', 's']], { halo: 5 });
    // rotated fraction on the right
    mathText(ctx, 1105, 1130, 26, [['population', 's']], { align: 'center', rot: -Math.PI / 2 });
    ctx.save();
    ctx.strokeStyle = BLACK; ctx.lineWidth = 1.6;
    ctx.beginPath(); ctx.moveTo(1114, 1040); ctx.lineTo(1114, 1221); ctx.stroke();
    ctx.restore();
    mathText(ctx, 1140, 1130, 26, [['max', 's'], ['{', 's'], ['norm. ', 's'], ['\u0394', 'd'], ['I', 's'], ['}', 's']],
      { align: 'center', rot: -Math.PI / 2 });
    // x label with fraction
    mathText(ctx, 721, 1428, 36, [['\u2131', 'd', 1.1], ['pump', 's', 0.74, 0.24]]);
    mathText(ctx, 836, 1431, 72, [['(', 'e']]);
    mathText(ctx, 884, 1403, 26, [['\u03bc', 'i'], ['J', 's']], { align: 'center' });
    ctx.save();
    ctx.strokeStyle = BLACK; ctx.lineWidth = 1.6;
    ctx.beginPath(); ctx.moveTo(861, 1410); ctx.lineTo(908, 1410); ctx.stroke();
    ctx.restore();
    mathText(ctx, 884, 1436, 26, [['cm', 's'], ['2', 's', 0.72, -0.38]], { align: 'center' });
    mathText(ctx, 910, 1431, 72, [[')', 'e']]);
  }
});

// panel d
const dataSeries = [data490, data670, data920, data1320, data2180, data3240, data7080];
const modelSeries = [model490, model670, model920, model1320, model2180, model3240, model7080];
const seriesAlpha = c => c + '80';

new Chart(addCanvas(), {
  type: 'scatter',
  data: {
    datasets: dataSeries.map((s, i) => ({
      data: zipXY(energy, s), backgroundColor: 'transparent', borderColor: seriesColors[i] === '#f0f921' ? '#f5f50f' : seriesColors[i],
      borderWidth: 2.3, pointRadius: 5, pointBorderWidth: 2.3
    })).reverse().concat(modelSeries.map((s, i) => ({
      data: zipXY(energy, s), showLine: true, pointRadius: 0, borderColor: seriesAlpha(seriesColors[i]), borderWidth: 7.5, tension: 0
    })).reverse())
  },
  options: baseOptions({ l: 184, t: 1480, r: 1012, b: 2032 }, {
    x: linearAxis(true, 1.85, 2.15, energyTicksD, true, v => v.toFixed(2), 'bottom', 'transparent'),
    y: linearAxis(false, -0.0392, 0.7416, valueTicksD, true, tick1, 'left', 'transparent')
  }),
  plugins: [{
    id: 'panelText',
    afterDraw(chart) {
      const ctx = chart.ctx;
      frame(chart, BLACK, 2);
      mathText(ctx, 192, 1518, 32, [['d', 's']]);
      mathText(ctx, 1000, 1510, 29, [['T', 's'], [' = ', 'e', 1.2], ['\u2212', 'e', 1.2], ['20 fs', 's']], { align: 'right' });
      legendBox(ctx, 209, 1575, 395, 1672);
      legendLine(ctx, 218, 287, 1600, seriesAlpha(seriesColors[0]), 7.5);
      mathText(ctx, 306, 1609, 25, [['model', 's']]);
      ctx.save();
      ctx.strokeStyle = seriesColors[0]; ctx.lineWidth = 2.3;
      ctx.beginPath(); ctx.arc(252, 1646, 5, 0, 2 * Math.PI); ctx.stroke();
      ctx.restore();
      mathText(ctx, 306, 1655, 25, [['data', 's']]);
      mathText(ctx, 596, 2127, 35,
        [['3', 's'], ['\u210f\u03c9', 'i', 1.08], ['probe', 's', 0.74, 0.24], [' = ', 'e', 1.2], ['\u210f\u03c9', 'i', 1.08], ['m', 's', 0.74, 0.24], ['  (eV)', 's']],
        { align: 'center' });
      mathText(ctx, 104, 1736, 38, [['shifted norm. ', 's'], ['\u0394', 'd'], ['I', 's']], { align: 'center', rot: -Math.PI / 2 });
    }
  }]
});
</script>
</body>
</html>
